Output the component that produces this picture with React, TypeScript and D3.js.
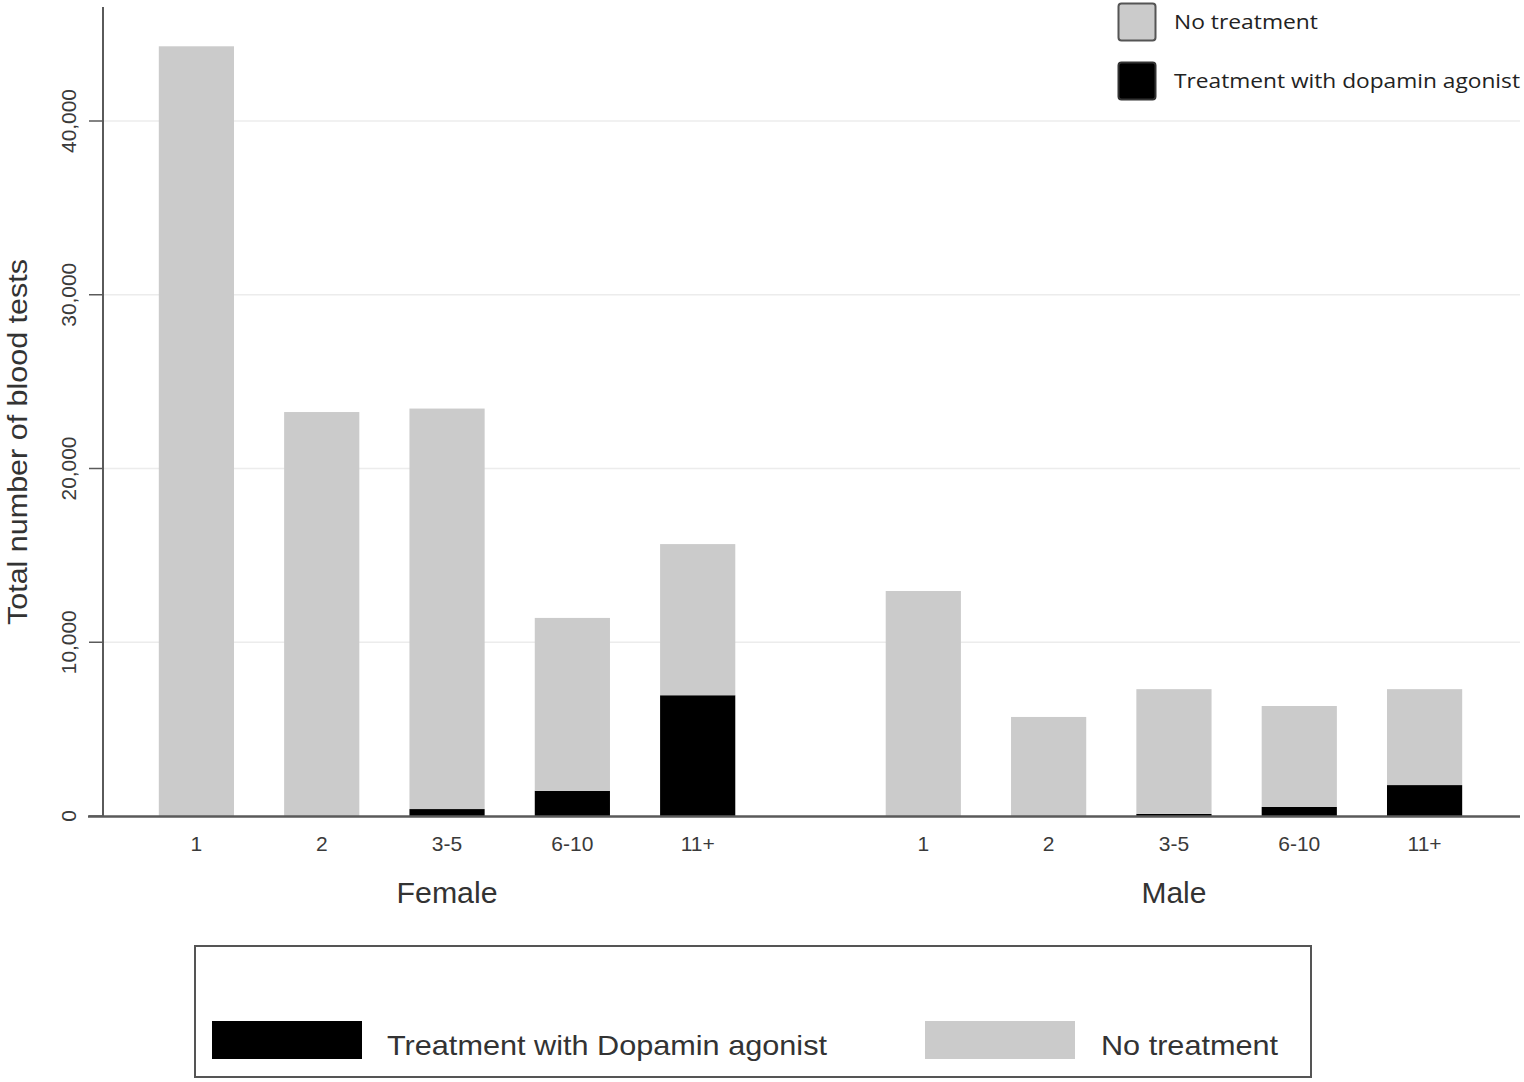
import React from "react";
import * as d3 from "d3";

const groups = ["Female", "Male"];
const bins = ["1", "2", "3-5", "6-10", "11+"];
const totalFemale = [44300, 23250, 23450, 11400, 15650];
const treatedFemale = [0, 0, 400, 1450, 6950];
const totalMale = [12950, 5700, 7300, 6330, 7300];
const treatedMale = [0, 0, 120, 520, 1780];
const yTicks = [0, 10000, 20000, 30000, 40000];

const GRAY = "#cbcbcb";
const AXIS = "#5a5a5a";

export default function App() {
  const W = 1524, H = 1082;
  const y = d3.scaleLinear().domain([0, 40000]).range([816, 121]);
  const outer = d3.scaleBand<string>().domain(groups).range([133.75, 1487.25]).paddingInner(0.138).paddingOuter(0);
  const inner = d3.scaleBand<string>().domain(bins).range([0, outer.bandwidth()]).paddingInner(0.4).paddingOuter(0.2);
  const fmt = d3.format(",");

  const data = groups.flatMap((g, gi) =>
    bins.map((b, bi) => {
      const total = gi === 0 ? totalFemale[bi] : totalMale[bi];
      const treated = gi === 0 ? treatedFemale[bi] : treatedMale[bi];
      return { g, b, total, treated, none: total - treated };
    })
  );
  const stack = d3.stack<any>().keys(["treated", "none"])(data);
  const colors: Record<string, string> = { treated: "#000", none: GRAY };
  const groupLen: Record<string, number> = { Female: 101, Male: 65 };

  return (
    <svg width={W} height={H} style={{ position: "absolute", left: 0, top: 0, background: "#fff" }}>
      <rect x={0} y={0} width={W} height={H} fill="#fff" />
      {yTicks.filter(t => t > 0).map(t => (
        <line key={t} x1={104} x2={1520} y1={y(t)} y2={y(t)} stroke="#ececec" strokeWidth={1.5} />
      ))}
      {stack.map(layer =>
        layer.map((d, i) => {
          const row = d.data;
          const x = (outer(row.g) as number) + (inner(row.b) as number);
          const h = y(d[0]) - y(d[1]);
          if (h <= 0) return null;
          return <rect key={layer.key + i} x={x} y={y(d[1])} width={inner.bandwidth()} height={h} fill={colors[layer.key]} />;
        })
      )}
      <line x1={103} x2={103} y1={7} y2={817} stroke={AXIS} strokeWidth={2} />
      {yTicks.map(t => (
        <g key={t}>
          <line x1={89} x2={103} y1={y(t)} y2={y(t)} stroke={AXIS} strokeWidth={1.5} />
          <text
            transform={`translate(76,${y(t)}) rotate(-90)`}
            textAnchor="middle"
            fontFamily="Liberation Sans, Arial, sans-serif"
            fontSize={21}
            fill="#3a3a3a"
            textLength={t === 0 ? undefined : 64}
            lengthAdjust="spacingAndGlyphs"
          >{fmt(t)}</text>
        </g>
      ))}
      <text
        transform={`translate(27,${442}) rotate(-90)`}
        textAnchor="middle"
        fontFamily="Liberation Sans, Arial, sans-serif"
        fontSize={27}
        fill="#333"
        textLength={366}
        lengthAdjust="spacingAndGlyphs"
      >Total number of blood tests</text>
      <line x1={88} x2={1520} y1={816.5} y2={816.5} stroke={AXIS} strokeWidth={2.5} />
      {data.map((d, i) => {
        const cx = (outer(d.g) as number) + (inner(d.b) as number) + inner.bandwidth() / 2;
        return (
          <text key={"xt" + i} x={cx} y={851} textAnchor="middle" fontFamily="Liberation Sans, Arial, sans-serif" fontSize={21} fill="#3a3a3a">{d.b}</text>
        );
      })}
      {groups.map(g => (
        <text key={g} x={(outer(g) as number) + outer.bandwidth() / 2} y={903} textAnchor="middle" fontFamily="Liberation Sans, Arial, sans-serif" fontSize={29} fill="#333" textLength={groupLen[g]} lengthAdjust="spacingAndGlyphs">{g}</text>
      ))}
      <rect x={1118.5} y={3.5} width={37} height={37} rx={3} fill={GRAY} stroke="#555" strokeWidth={2} />
      <text x={1174} y={29} fontFamily="Open Sans, sans-serif" fontSize={20} fill="#222" textLength={144} lengthAdjust="spacingAndGlyphs">No treatment</text>
      <rect x={1118.5} y={62.5} width={37} height={37} rx={3} fill="#000" stroke="#333" strokeWidth={2} />
      <text x={1174} y={88} fontFamily="Open Sans, sans-serif" fontSize={20} fill="#222" textLength={346} lengthAdjust="spacingAndGlyphs">Treatment with dopamin agonist</text>
      <rect x={195} y={946} width={1116} height={131} fill="#fff" stroke="#555" strokeWidth={2} />
      <rect x={212} y={1021} width={150} height={38} fill="#000" />
      <text x={387} y={1055} fontFamily="Liberation Sans, Arial, sans-serif" fontSize={28} fill="#333" textLength={440} lengthAdjust="spacingAndGlyphs">Treatment with Dopamin agonist</text>
      <rect x={925} y={1021} width={150} height={38} fill={GRAY} />
      <text x={1101} y={1055} fontFamily="Liberation Sans, Arial, sans-serif" fontSize={28} fill="#333" textLength={177} lengthAdjust="spacingAndGlyphs">No treatment</text>
    </svg>
  );
}
